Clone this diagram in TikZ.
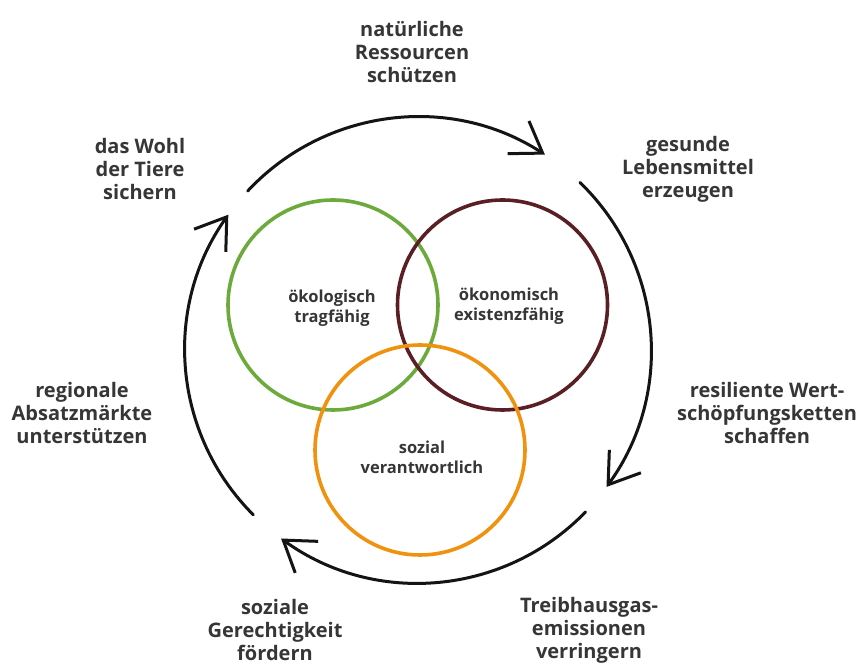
\documentclass[tikz,border=0pt]{standalone}
\usepackage{fontspec}
\setmainfont{Open Sans}
\usetikzlibrary{arrows.meta,calc}
\definecolor{txt}{HTML}{363636}
\definecolor{ecogreen}{HTML}{6DAA3C}
\definecolor{econbrown}{HTML}{5A1F24}
\definecolor{socorange}{HTML}{F0920E}
\tikzset{
  outerlabel/.style={align=center, text=txt, font=\fontsize{20}{23}\selectfont\bfseries, inner sep=0pt},
  innerlabel/.style={align=center, text=txt, font=\fontsize{16.5}{20}\selectfont\bfseries, inner sep=0pt},
  ring/.style={circle, draw, line width=3.6pt, minimum size=210pt, inner sep=0pt},
  cyclearrow/.style={line width=3pt, line cap=round, draw=black!92, -{Straight Barb[length=29pt,width=39pt,line width=3pt]}}
}
\begin{document}
\begin{tikzpicture}[x=1pt,y=1pt]
\useasboundingbox (0,0) rectangle (859,666);
\fill[white] (0,0) rectangle (859,666);
% Venn circles
\node[ring, draw=ecogreen] (eco) at (333,361) {};
\node[ring, draw=econbrown] (econ) at (502.5,361) {};
\node[ring, draw=socorange] (soc) at (420,216) {};
\node[innerlabel] (ecol) at (332,358) {ökologisch\\tragfähig};
\node[innerlabel] (econl) at (509,360) {ökonomisch\\existenzfähig};
\node[innerlabel] (socl) at (422,209) {sozial\\verantwortlich};
% cycle
\coordinate (C) at (418,316);
\coordinate (a1) at ($(C)+(137:233)$);
\coordinate (a2) at ($(C)+(46:233)$);
\coordinate (a3) at ($(C)+(-44:233)$);
\coordinate (a4) at ($(C)+(225:233)$);
\draw[cyclearrow] (a1) arc[start angle=137, end angle=57, radius=233];
\draw[cyclearrow] (a2) arc[start angle=46, end angle=-36, radius=233];
\draw[cyclearrow] (a3) arc[start angle=-44, end angle=-126, radius=233];
\draw[cyclearrow] (a4) arc[start angle=225, end angle=144.5, radius=233];
% outer labels
\node[outerlabel] (l1) at (412,614) {natürliche\\Ressourcen\\schützen};
\node[outerlabel] (l2) at (688,497) {gesunde\\Lebensmittel\\erzeugen};
\node[outerlabel] (l3) at (767,253) {resiliente Wert-\\schöpfungsketten\\schaffen};
\node[outerlabel] (l4) at (589,36) {Treibhausgas-\\emissionen\\verringern};
\node[outerlabel] (l5) at (275,36) {soziale\\Gerechtigkeit\\fördern};
\node[outerlabel] (l6) at (82,253) {regionale\\Absatzmärkte\\unterstützen};
\node[outerlabel] (l7) at (140,497) {das Wohl\\der Tiere\\sichern};
\end{tikzpicture}
\end{document}
